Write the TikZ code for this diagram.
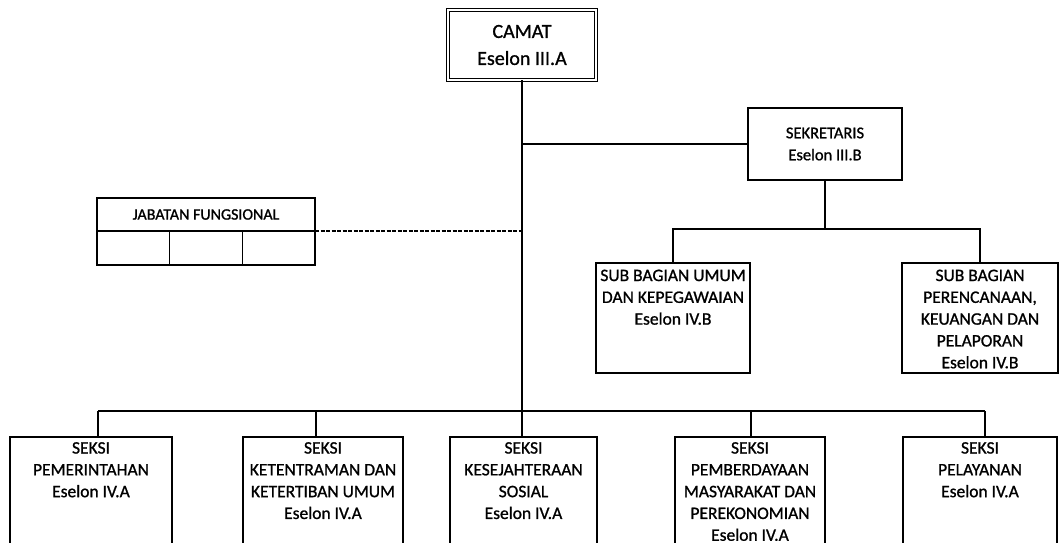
\documentclass[tikz,border=0pt]{standalone}
\usepackage{fontspec}
\setmainfont{Carlito}[FakeBold=1]
\usetikzlibrary{positioning}
\begin{document}
\begin{tikzpicture}[x=1pt,y=-1pt,
  box/.style={draw,line width=1.3pt,inner sep=0pt,outer sep=0pt},
  txt/.style={align=center,inner sep=0pt,font=\fontsize{17.5}{21.8}\selectfont},
  link/.style={line width=1.3pt}]
  \useasboundingbox (0,0) rectangle (1062,543);
  \clip (0,0) rectangle (1062,543);
  \fill[color=white] (0,0) rectangle (1062,543);
  \node[box,double,double distance=2pt,line width=0.9pt,minimum width=148pt,
    minimum height=70pt,align=center,font=\fontsize{20}{27}\selectfont]
    (camat) at (522,45) {CAMAT\\Eselon III.A};
  \node[box,txt,font=\fontsize{16.5}{22}\selectfont,minimum width=154pt,
    minimum height=72pt] (sekr) at (825,144) {SEKRETARIS\\Eselon III.B};
  \node[box,minimum width=154pt,minimum height=110pt] (sub1) at (673,318) {};
  \node[txt,below=6.5pt of sub1.north] (sub1t)
    {SUB BAGIAN UMUM\\DAN KEPEGAWAIAN\\Eselon IV.B};
  \node[box,minimum width=156pt,minimum height=110pt] (sub2) at (980,318) {};
  \node[txt,below=6.5pt of sub2.north] (sub2t)
    {SUB BAGIAN\\PERENCANAAN,\\KEUANGAN DAN\\PELAPORAN\\Eselon IV.B};
  \node[box,txt,font=\fontsize{16}{20}\selectfont,minimum width=218pt,
    minimum height=33pt] (jab) at (206,214.5) {JABATAN FUNGSIONAL};
  \node[box,minimum width=72.67pt,minimum height=34pt,below right=0pt of jab.south west] (jab1) {};
  \node[box,minimum width=72.67pt,minimum height=34pt,right=0pt of jab1] (jab2) {};
  \node[box,minimum width=72.67pt,minimum height=34pt,right=0pt of jab2] (jab3) {};
  \node[box,minimum width=162pt,minimum height=130pt] (s1) at (91,502) {};
  \node[txt,below=5pt of s1.north] (s1t) {SEKSI\\PEMERINTAHAN\\Eselon IV.A};
  \node[box,minimum width=160pt,minimum height=130pt] (s2) at (323,502) {};
  \node[txt,below=5pt of s2.north] (s2t)
    {SEKSI\\KETENTRAMAN DAN\\KETERTIBAN UMUM\\Eselon IV.A};
  \node[box,minimum width=147pt,minimum height=130pt] (s3) at (523.5,502) {};
  \node[txt,below=5pt of s3.north] (s3t) {SEKSI\\KESEJAHTERAAN\\SOSIAL\\Eselon IV.A};
  \node[box,minimum width=150pt,minimum height=130pt] (s4) at (750,502) {};
  \node[txt,below=5pt of s4.north] (s4t)
    {SEKSI\\PEMBERDAYAAN\\MASYARAKAT DAN\\PEREKONOMIAN\\Eselon IV.A};
  \node[box,minimum width=154pt,minimum height=130pt] (s5) at (980,502) {};
  \node[txt,below=5pt of s5.north] (s5t) {SEKSI\\PELAYANAN\\Eselon IV.A};
  \coordinate (bus) at (522,411);
  \coordinate (sbus) at (825,229);
  \coordinate (t1) at (98,411);
  \coordinate (t2) at (316,411);
  \coordinate (t4) at (751,411);
  \coordinate (t5) at (985,411);
  \draw[link] (camat.south) -- (bus |- s3.north);
  \draw[link] (camat.south |- sekr.west) -- (sekr.west);
  \draw[link] (sekr) -- (sbus);
  \draw[link] (sub1) |- (sbus) -| (sub2);
  \draw[link,line width=1.1pt,dash pattern=on 4pt off 1.5pt] (jab.south east) -- (jab.south east -| bus);
  \draw[link] (t1) -- (t5);
  \draw[link] (t1) -- (t1 |- s1.north);
  \draw[link] (t2) -- (t2 |- s2.north);
  \draw[link] (t4) -- (t4 |- s4.north);
  \draw[link] (t5) -- (t5 |- s5.north);
\end{tikzpicture}
\end{document}
